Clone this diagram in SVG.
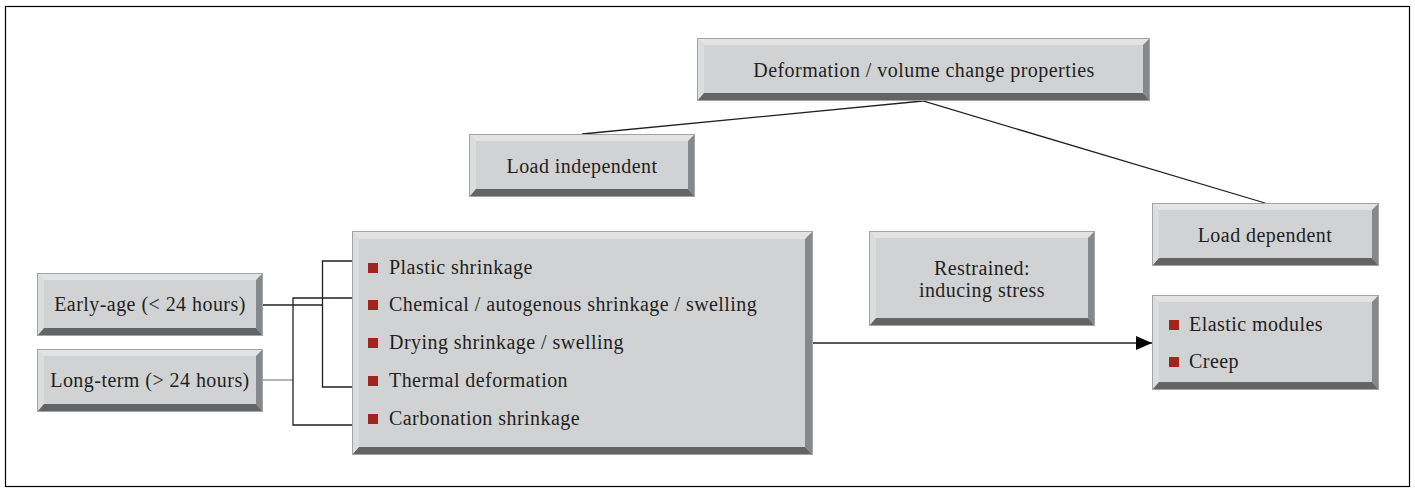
<svg xmlns="http://www.w3.org/2000/svg" width="1415" height="488" viewBox="0 0 1415 488">
<style>
.face{fill:#d1d2d4;stroke:#a3a4a6;stroke-width:1}
.bt{fill:#e2e3e4}
.bl{fill:#dcdddf}
.br{fill:#87888a}
.bb{fill:#636466}
.t{font-family:"Liberation Serif","Times New Roman",serif;font-size:20px;letter-spacing:0.45px;fill:#231f20}
.c{text-anchor:middle}
.sq{fill:#a3241d}
.ln{fill:none;stroke:#231f20;stroke-width:1.3}
.lg{fill:none;stroke:#8a8a8a;stroke-width:1.3}
</style>
<defs>
<marker id="ah" markerWidth="16" markerHeight="14" refX="16" refY="7" orient="auto" markerUnits="userSpaceOnUse">
<path d="M0,0 L16,7 L0,14 Z" fill="#000"/>
</marker>
</defs>
<rect x="5.5" y="6.5" width="1404" height="480" fill="#fff" stroke="#000" stroke-width="1.2"/>

<g id="connectors">
<polyline class="ln" points="582,134 923,101 1265,203"/>
<line class="ln" x1="813" y1="343" x2="1152" y2="343" marker-end="url(#ah)"/>
<polyline class="ln" points="263,305 322.5,305"/>
<polyline class="ln" points="352,261 322.5,261 322.5,387 352,387"/>
<polyline class="lg" points="263,380 293,380"/>
<polyline class="ln" points="352,298 293,298 293,425 352,425"/>
</g>

<g id="n-deformation">
<rect class="face" x="697.5" y="38.5" width="452" height="62"/>
<polygon class="bt" points="698,39 1149,39 1143,45 704,45"/>
<polygon class="bl" points="698,39 704,45 704,93 698,100"/>
<polygon class="br" points="1149,39 1149,100 1143,93 1143,45"/>
<polygon class="bb" points="698,100 1149,100 1143,93 704,93"/>
<text class="t c" x="924" y="77">Deformation / volume change properties</text>
</g>

<g id="n-load-independent">
<rect class="face" x="469.5" y="134.5" width="225" height="62"/>
<polygon class="bt" points="470,135 694,135 688,141 476,141"/>
<polygon class="bl" points="470,135 476,141 476,189 470,196"/>
<polygon class="br" points="694,135 694,196 688,189 688,141"/>
<polygon class="bb" points="470,196 694,196 688,189 476,189"/>
<text class="t c" x="582" y="173">Load independent</text>
</g>

<g id="n-load-dependent">
<rect class="face" x="1152.5" y="203.5" width="226" height="62"/>
<polygon class="bt" points="1153,204 1378,204 1372,210 1159,210"/>
<polygon class="bl" points="1153,204 1159,210 1159,258 1153,265"/>
<polygon class="br" points="1378,204 1378,265 1372,258 1372,210"/>
<polygon class="bb" points="1153,265 1378,265 1372,258 1159,258"/>
<text class="t c" x="1265" y="242">Load dependent</text>
</g>

<g id="n-restrained">
<rect class="face" x="869.5" y="231.5" width="225" height="94"/>
<polygon class="bt" points="870,232 1094,232 1088,238 876,238"/>
<polygon class="bl" points="870,232 876,238 876,318 870,325"/>
<polygon class="br" points="1094,232 1094,325 1088,318 1088,238"/>
<polygon class="bb" points="870,325 1094,325 1088,318 876,318"/>
<text class="t c" x="982" y="275">Restrained:</text>
<text class="t c" x="982" y="297">inducing stress</text>
</g>

<g id="n-load-dependent-props">
<rect class="face" x="1152.5" y="295.5" width="226" height="94"/>
<polygon class="bt" points="1153,296 1378,296 1372,302 1159,302"/>
<polygon class="bl" points="1153,296 1159,302 1159,382 1153,389"/>
<polygon class="br" points="1378,296 1378,389 1372,382 1372,302"/>
<polygon class="bb" points="1153,389 1378,389 1372,382 1159,382"/>
<rect class="sq" x="1169" y="320" width="10" height="10"/>
<text class="t" x="1189" y="331">Elastic modules</text>
<rect class="sq" x="1169" y="357" width="10" height="10"/>
<text class="t" x="1189" y="368">Creep</text>
</g>

<g id="n-load-independent-types">
<rect class="face" x="352.5" y="231.5" width="460" height="223"/>
<polygon class="bt" points="353,232 812,232 805,239 359,239"/>
<polygon class="bl" points="353,232 359,239 359,447 353,454"/>
<polygon class="br" points="812,232 812,454 805,447 805,239"/>
<polygon class="bb" points="353,454 812,454 805,447 359,447"/>
<rect class="sq" x="368" y="263" width="10" height="10"/>
<text class="t" x="389" y="274">Plastic shrinkage</text>
<rect class="sq" x="368" y="300" width="10" height="10"/>
<text class="t" x="389" y="311">Chemical / autogenous shrinkage / swelling</text>
<rect class="sq" x="368" y="338" width="10" height="10"/>
<text class="t" x="389" y="349">Drying shrinkage / swelling</text>
<rect class="sq" x="368" y="376" width="10" height="10"/>
<text class="t" x="389" y="387">Thermal deformation</text>
<rect class="sq" x="368" y="414" width="10" height="10"/>
<text class="t" x="389" y="425">Carbonation shrinkage</text>
</g>

<g id="n-early-age">
<rect class="face" x="37.5" y="273.5" width="225" height="62"/>
<polygon class="bt" points="38,274 262,274 256,280 44,280"/>
<polygon class="bl" points="38,274 44,280 44,328 38,335"/>
<polygon class="br" points="262,274 262,335 256,328 256,280"/>
<polygon class="bb" points="38,335 262,335 256,328 44,328"/>
<text class="t c" x="150" y="311">Early-age (&lt; 24 hours)</text>
</g>

<g id="n-long-term">
<rect class="face" x="37.5" y="349.5" width="225" height="62"/>
<polygon class="bt" points="38,350 262,350 256,356 44,356"/>
<polygon class="bl" points="38,350 44,356 44,404 38,411"/>
<polygon class="br" points="262,350 262,411 256,404 256,356"/>
<polygon class="bb" points="38,411 262,411 256,404 44,404"/>
<text class="t c" x="150" y="387">Long-term (&gt; 24 hours)</text>
</g>
</svg>
